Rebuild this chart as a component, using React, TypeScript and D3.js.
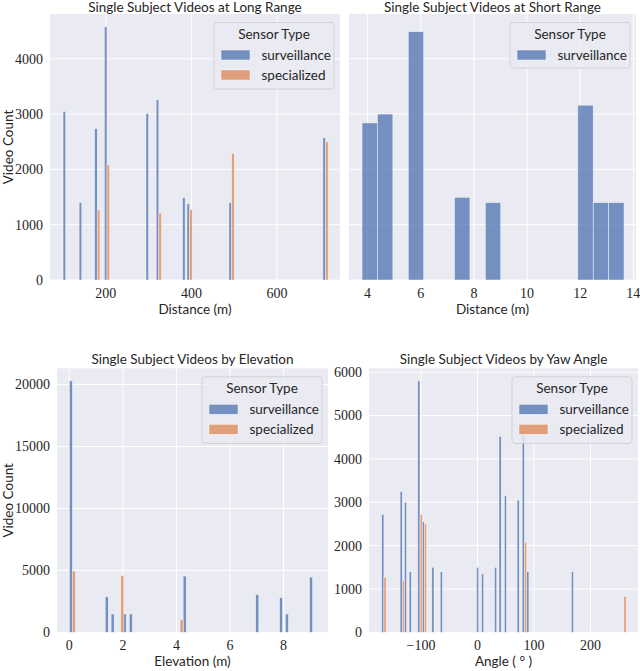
import React from "react";
import * as d3 from "d3";

const BLUE = "#4c72b0";
const ORANGE = "#dd8452";
const SANS = "Lato, 'Open Sans', sans-serif";
const SERIF = "'Liberation Serif', serif";

// Long range (bin left edge, count)
const longSurvBins = [100, 137.5, 173.7, 196.5, 293.7, 317.5, 379, 389.5, 487.5, 707];
const longSurvCounts = [3050, 1400, 2740, 4580, 3010, 3260, 1490, 1375, 1400, 2570];
const longSpecBins = [179.9, 202.7, 323.7, 395.7, 493.7, 713.2];
const longSpecCounts = [1270, 2080, 1210, 1270, 2290, 2500];

// Short range
const shortSurvBins = [3.79, 4.37, 5.53, 7.27, 8.43, 11.91, 12.49, 13.07];
const shortSurvCounts = [2840, 3000, 4490, 1495, 1400, 3160, 1400, 1400];

// Elevation
const elevSurvBins = [0.0, 1.34, 1.56, 2.01, 2.24, 4.25, 6.96, 7.85, 8.07, 8.97];
const elevSurvCounts = [20300, 2870, 1480, 1480, 1480, 4540, 3050, 2790, 1480, 4460];
const elevSpecBins = [0.11, 1.92, 4.135];
const elevSpecCounts = [4950, 4600, 1000];

// Yaw angle
const yawSurvBins = [-169.6, -137, -129.5, -121, -105.8, -98, -81, -66, -1.8, 7, 30, 38, 47.4, 70, 79, 87, 166];
const yawSurvCounts = [2720, 3250, 3000, 1400, 5800, 2550, 1500, 1400, 1500, 1350, 1500, 4520, 3150, 3050, 4650, 1400, 1400];
const yawSpecBins = [-165.6, -133, -101.5, -94, 83, 259];
const yawSpecCounts = [1270, 1200, 2720, 2500, 2080, 830];

const longTicksX = [200, 400, 600];
const shortTicksX = [4, 6, 8, 10, 12, 14];
const rangeTicksY = [0, 1000, 2000, 3000, 4000];
const elevTicksX = [0, 2, 4, 6, 8];
const elevTicksY = [0, 5000, 10000, 15000, 20000];
const yawTicksX = [-100, 0, 100, 200];
const yawTicksY = [0, 1000, 2000, 3000, 4000, 5000, 6000];

const ANGLE_LABEL = "Angle ( \u00B0 )";

type Series = { name: string; color: string; bins: number[]; counts: number[] };

function Panel(props: {
  left: number; top: number; right: number; bottom: number;
  xDomain: [number, number]; yMax: number;
  xTicks: number[]; yTicks: number[]; showYLabels: boolean;
  series: Series[]; barW: number;
  title: string; xLabel: string; yLabel?: string;
}) {
  const { left, top, right, bottom, xDomain, yMax, xTicks, yTicks, showYLabels, series, barW, title, xLabel, yLabel } = props;
  const xs = d3.scaleLinear().domain(xDomain).range([left, right]);
  const ys = d3.scaleLinear().domain([0, yMax]).range([bottom, top]);
  const fmtX = (v: number) => (v < 0 ? "\u2212" + Math.abs(v) : String(v));
  const lgW = 120;
  const lgH = series.length === 2 ? 66.6 : 45.6;
  const lgX = right - 6 - lgW;
  const lgY = top + 8.5;
  return (
    <g>
      <rect x={left} y={top} width={right - left} height={bottom - top} fill="#eaeaf2" />
      {xTicks.map((t) => (
        <line key={"gx" + t} x1={xs(t)} x2={xs(t)} y1={top} y2={bottom} stroke="#fff" strokeWidth={1} />
      ))}
      {yTicks.map((t) => (
        <line key={"gy" + t} x1={left} x2={right} y1={ys(t)} y2={ys(t)} stroke="#fff" strokeWidth={1} />
      ))}
      {series.map((s) =>
        s.bins.map((b, i) => (
          <rect
            key={s.name + i}
            x={xs(b)}
            width={xs(b + barW) - xs(b)}
            y={ys(s.counts[i])}
            height={ys(0) - ys(s.counts[i])}
            fill={s.color}
            fillOpacity={0.75}
            stroke="#ffffff"
            strokeOpacity={0.75}
            strokeWidth={0.6}
          />
        ))
      )}
      {xTicks.map((t) => (
        <text key={"tx" + t} x={xs(t)} y={bottom + 18} textAnchor="middle" fontFamily={SERIF} fontSize={14} fill="#262626">
          {fmtX(t)}
        </text>
      ))}
      {showYLabels &&
        yTicks.map((t) => (
          <text key={"ty" + t} x={left - 7} y={ys(t)} dy="0.35em" textAnchor="end" fontFamily={SERIF} fontSize={14} fill="#262626">
            {t}
          </text>
        ))}
      <text x={(left + right) / 2} y={Math.max(top - 4, 12)} textAnchor="middle" fontFamily={SANS} fontSize={13.5} fill="#262626">
        {title}
      </text>
      <text x={(left + right) / 2} y={bottom + 33.5} textAnchor="middle" fontFamily={SANS} fontSize={13.5} fill="#262626">
        {xLabel}
      </text>
      {yLabel && (
        <text transform={`translate(12.5,${(top + bottom) / 2}) rotate(-90)`} textAnchor="middle" fontFamily={SANS} fontSize={13.5} fill="#262626">
          {yLabel}
        </text>
      )}
      <g>
        <rect x={lgX} y={lgY} width={lgW} height={lgH} rx={3} fill="#eaeaf2" fillOpacity={0.8} stroke="#cccccc" strokeWidth={0.8} />
        <text x={lgX + lgW / 2} y={lgY + 11.5} dy="0.35em" textAnchor="middle" fontFamily={SANS} fontSize={13.5} fill="#262626">
          Sensor Type
        </text>
        {series.map((s, i) => (
          <g key={"lg" + s.name}>
            <rect x={lgX + 7} y={lgY + 27.5 + i * 20} width={29} height={10} fill={s.color} fillOpacity={0.75} stroke="#fff" strokeOpacity={0.75} strokeWidth={0.6} />
            <text x={lgX + 47.5} y={lgY + 32.5 + i * 20} dy="0.35em" fontFamily={SANS} fontSize={13.5} fill="#262626">
              {s.name}
            </text>
          </g>
        ))}
      </g>
    </g>
  );
}

export default function App() {
  return (
    <svg width={640} height={671} style={{ position: "absolute", left: 0, top: 0, background: "#fff" }}>
      <Panel
        left={50} top={14} right={340} bottom={280}
        xDomain={[69.5, 747]} yMax={4580 * 1.05}
        xTicks={longTicksX} yTicks={rangeTicksY} showYLabels={true}
        series={[
          { name: "surveillance", color: BLUE, bins: longSurvBins, counts: longSurvCounts },
          { name: "specialized", color: ORANGE, bins: longSpecBins, counts: longSpecCounts },
        ]}
        barW={6.2}
        title="Single Subject Videos at Long Range" xLabel="Distance (m)" yLabel="Video Count"
      />
      <Panel
        left={349} top={14} right={636} bottom={280}
        xDomain={[3.3, 14.1]} yMax={4580 * 1.05}
        xTicks={shortTicksX} yTicks={rangeTicksY} showYLabels={false}
        series={[{ name: "surveillance", color: BLUE, bins: shortSurvBins, counts: shortSurvCounts }]}
        barW={0.58}
        title="Single Subject Videos at Short Range" xLabel="Distance (m)"
      />
      <Panel
        left={57} top={368.3} right={328} bottom={632.3}
        xDomain={[-0.46, 9.66]} yMax={20300 * 1.05}
        xTicks={elevTicksX} yTicks={elevTicksY} showYLabels={true}
        series={[
          { name: "surveillance", color: BLUE, bins: elevSurvBins, counts: elevSurvCounts },
          { name: "specialized", color: ORANGE, bins: elevSpecBins, counts: elevSpecCounts },
        ]}
        barW={0.115}
        title="Single Subject Videos by Elevation" xLabel="Elevation (m)" yLabel="Video Count"
      />
      <Panel
        left={369} top={368.3} right={638} bottom={632.3}
        xDomain={[-192, 284]} yMax={5800 * 1.05}
        xTicks={yawTicksX} yTicks={yawTicksY} showYLabels={true}
        series={[
          { name: "surveillance", color: BLUE, bins: yawSurvBins, counts: yawSurvCounts },
          { name: "specialized", color: ORANGE, bins: yawSpecBins, counts: yawSpecCounts },
        ]}
        barW={4}
        title="Single Subject Videos by Yaw Angle" xLabel={ANGLE_LABEL}
      />
    </svg>
  );
}
